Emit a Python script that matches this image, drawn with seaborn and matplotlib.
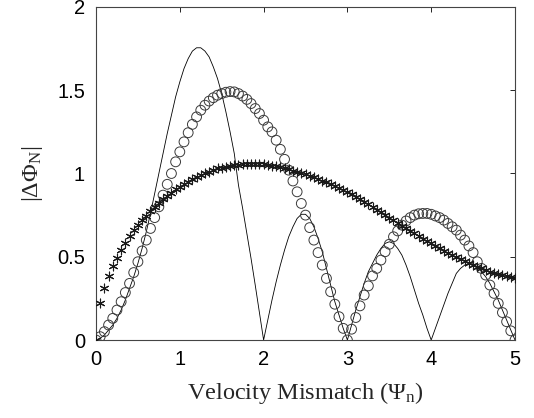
import numpy as np
import pandas as pd
import matplotlib
matplotlib.use("Agg")
import matplotlib.pyplot as plt
import seaborn as sns

# ---- data ----
psi = [round(0.05 * i, 2) for i in range(101)]

solid_vals = [
    0.00, 0.01, 0.03, 0.06, 0.09, 0.13, 0.18, 0.24, 0.31, 0.38,
    0.46, 0.55, 0.65, 0.76, 0.88, 1.00, 1.12, 1.24, 1.35, 1.46,
    1.55, 1.63, 1.69, 1.735, 1.755, 1.755, 1.735, 1.70, 1.64, 1.57,
    1.48, 1.37, 1.25, 1.12, 0.93, 0.79, 0.64, 0.49, 0.33, 0.165,
    0.00, 0.12, 0.24, 0.35, 0.45, 0.54, 0.62, 0.68, 0.73, 0.755,
    0.755, 0.73, 0.68, 0.61, 0.53, 0.43, 0.33, 0.23, 0.15, 0.07,
    0.00, 0.09, 0.18, 0.26, 0.34, 0.41, 0.46, 0.51, 0.55, 0.58,
    0.59, 0.58, 0.55, 0.51, 0.45, 0.38, 0.30, 0.22, 0.15, 0.07,
    0.00, 0.07, 0.14, 0.21, 0.28, 0.34, 0.40, 0.43, 0.45, 0.46,
    0.455, 0.44, 0.41, 0.38, 0.34, 0.29, 0.24, 0.18, 0.12, 0.06,
    0.00,
]

circle_vals = [
    0.00, 0.02, 0.05, 0.09, 0.13, 0.18, 0.23, 0.285, 0.34, 0.405,
    0.47, 0.535, 0.60, 0.67, 0.735, 0.80, 0.87, 0.935, 1.00, 1.07,
    1.13, 1.19, 1.245, 1.295, 1.34, 1.38, 1.41, 1.435, 1.455, 1.47,
    1.48, 1.488, 1.492, 1.49, 1.48, 1.465, 1.445, 1.42, 1.39, 1.36,
    1.32, 1.28, 1.25, 1.20, 1.145, 1.085, 1.02, 0.955, 0.89, 0.82,
    0.75, 0.675, 0.60, 0.525, 0.45, 0.37, 0.29, 0.215, 0.14, 0.07,
    0.00, 0.065, 0.135, 0.205, 0.27, 0.325, 0.385, 0.43, 0.48, 0.53,
    0.575, 0.62, 0.655, 0.69, 0.715, 0.735, 0.75, 0.758, 0.76, 0.76,
    0.755, 0.745, 0.735, 0.72, 0.70, 0.68, 0.66, 0.63, 0.60, 0.565,
    0.525, 0.47, 0.43, 0.39, 0.33, 0.28, 0.22, 0.165, 0.11, 0.055,
    0.00,
]

star_vals = [
    0.00, 0.225, 0.315, 0.385, 0.445, 0.495, 0.54, 0.585, 0.625, 0.66,
    0.69, 0.72, 0.745, 0.775, 0.80, 0.825, 0.845, 0.865, 0.885, 0.905,
    0.92, 0.935, 0.95, 0.965, 0.98, 0.99, 1.00, 1.01, 1.02, 1.03,
    1.035, 1.04, 1.045, 1.05, 1.052, 1.056, 1.058, 1.058, 1.058, 1.056,
    1.054, 1.05, 1.046, 1.042, 1.036, 1.03, 1.024, 1.017, 1.01, 1.002,
    0.994, 0.985, 0.976, 0.967, 0.957, 0.947, 0.936, 0.925, 0.913, 0.901,
    0.888, 0.874, 0.86, 0.845, 0.83, 0.814, 0.798, 0.782, 0.766, 0.75,
    0.734, 0.718, 0.702, 0.687, 0.671, 0.655, 0.64, 0.624, 0.609, 0.594,
    0.58, 0.565, 0.551, 0.537, 0.524, 0.511, 0.498, 0.486, 0.474, 0.462,
    0.451, 0.44, 0.43, 0.42, 0.411, 0.402, 0.395, 0.388, 0.382, 0.378,
    0.375,
]

x_ticks = [0, 1, 2, 3, 4, 5]
y_ticks = [0, 0.5, 1, 1.5, 2]
y_tick_labels = ["0", "0.5", "1", "1.5", "2"]

df = pd.DataFrame({"psi": psi, "solid": solid_vals,
                   "circle": circle_vals, "star": star_vals})

sns.set_style("white")
plt.rcParams["font.family"] = ["Liberation Sans", "DejaVu Sans"]
plt.rcParams["mathtext.fontset"] = "custom"
plt.rcParams["mathtext.rm"] = "Liberation Serif"
plt.rcParams["mathtext.it"] = "Liberation Serif:italic"

fig = plt.figure(figsize=(5.34, 4.18), dpi=100)
ax = fig.add_axes([0.1798, 0.1866, 0.7846, 0.7967])

sns.lineplot(data=df, x="psi", y="solid", ax=ax, color="black",
             linewidth=0.6, legend=False)
sns.scatterplot(data=df, x="psi", y="circle", ax=ax, marker="o",
                s=50, facecolor="none", edgecolor="#3a3a3a",
                linewidth=0.7, legend=False, zorder=3)
sns.scatterplot(data=df, x="psi", y="star", ax=ax, marker=(6, 2, 0),
                s=40, color="#1a1a1a", linewidth=0.8, legend=False,
                zorder=4)

ax.set_xlim(0, 5)
ax.set_ylim(0, 2)
ax.set_xticks(x_ticks)
ax.set_xticklabels([str(t) for t in x_ticks])
ax.set_yticks(y_ticks)
ax.set_yticklabels(y_tick_labels)
ax.tick_params(direction="in", length=3.5, width=0.6, top=True, right=True,
               labelsize=14.5, colors="black")
ax.tick_params(axis="x", pad=7)
ax.tick_params(axis="y", pad=8)
for sp in ax.spines.values():
    sp.set_color("#444444")
    sp.set_linewidth(0.8)

ax.set_xlabel(r"Velocity Mismatch ($\Psi_{\rm n}$)", fontsize=17.5,
              family="Liberation Serif", labelpad=8)
ax.set_ylabel(r"$|\Delta\Phi_{\rm N}|$", fontsize=17.5,
              family="Liberation Serif", labelpad=9)

fig.savefig("out.png", dpi=100)
